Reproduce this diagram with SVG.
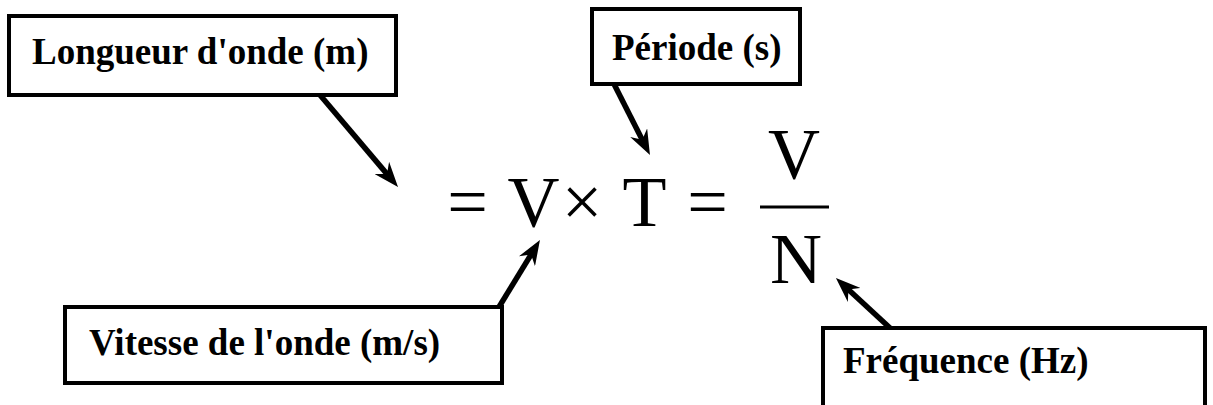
<svg xmlns="http://www.w3.org/2000/svg" width="1213" height="405" viewBox="0 0 1213 405">
  <style>
    .box { fill: #ffffff; stroke: #000000; stroke-width: 4; }
    .label { font-family: "Liberation Serif", "Times New Roman", serif; font-weight: bold; font-size: 37px; fill: #000000; }
    .math { font-family: "Liberation Serif", "Times New Roman", serif; font-size: 72px; fill: #000000; text-anchor: middle; }
    .conn { stroke: #000000; stroke-width: 5.5; fill: none; marker-end: url(#arrow); }
  </style>
  <defs>
    <marker id="arrow" markerUnits="userSpaceOnUse" viewBox="0 0 25 19" markerWidth="25" markerHeight="19" refX="14" refY="9.5" orient="auto">
      <path d="M0,0 L25,9.5 L0,19 L8,9.5 Z" fill="#000000"/>
    </marker>
  </defs>
  <rect width="1213" height="405" fill="#ffffff"/>

  <g id="connectors">
    <line class="conn" x1="320" y1="95" x2="390.9" y2="178.6"/>
    <line class="conn" x1="614" y1="84" x2="645" y2="145.2"/>
    <line class="conn" x1="499" y1="307" x2="534.2" y2="249.4"/>
    <line class="conn" x1="890" y1="328" x2="844" y2="285.5"/>
  </g>

  <g id="node-longueur">
    <rect class="box" x="9" y="16" width="387" height="79"/>
    <text class="label" x="32" y="64">Longueur d'onde (m)</text>
  </g>

  <g id="node-periode">
    <rect class="box" x="592" y="9" width="208" height="75"/>
    <text class="label" x="612" y="60">Période (s)</text>
  </g>

  <g id="node-vitesse">
    <rect class="box" x="65" y="307" width="437" height="76"/>
    <text class="label" x="89" y="355">Vitesse de l'onde (m/s)</text>
  </g>

  <g id="node-frequence">
    <rect class="box" x="823" y="328" width="382" height="84"/>
    <text class="label" x="843" y="373">Fréquence (Hz)</text>
  </g>

  <g id="formula">
    <text class="math" x="467.5" y="226">=</text>
    <text class="math" x="533.5" y="226">V</text>
    <text class="math" x="582" y="226">×</text>
    <text class="math" x="644.5" y="226">T</text>
    <text class="math" x="707.5" y="226">=</text>
    <text class="math" x="794" y="178">V</text>
    <line x1="760" y1="207" x2="829" y2="207" stroke="#000000" stroke-width="3"/>
    <text class="math" x="796" y="283">N</text>
  </g>
</svg>
